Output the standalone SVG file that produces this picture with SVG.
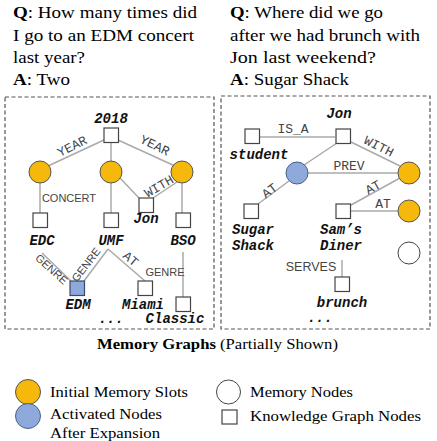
<svg xmlns="http://www.w3.org/2000/svg" width="437" height="441" viewBox="0 0 437 441">
<style>
.q{font-family:"Liberation Serif",serif;font-size:16.5px;fill:#000}
.lg{font-family:"Liberation Serif",serif;font-size:15.5px;fill:#000}
.nl{font-family:"Liberation Mono",monospace;font-size:14px;font-weight:bold;font-style:italic;fill:#111;text-anchor:middle}
.el{font-family:"Liberation Mono",monospace;font-size:13px;fill:#444;text-anchor:middle}
.es{font-family:"Liberation Sans",sans-serif;font-size:11px;fill:#444;text-anchor:middle}
.box{fill:none;stroke:#555;stroke-width:1.2;stroke-dasharray:4 2.5}
.ln{stroke:#aaa;stroke-width:1.5;fill:none}
.sq{fill:#fff;stroke:#444;stroke-width:1.2}
.ym{fill:#f6b80a;stroke:#555;stroke-width:1}
.bm{fill:#8ea9db;stroke:#4d6185;stroke-width:1}
.wm{fill:#fff;stroke:#444;stroke-width:1}
</style>
<g id="questions">
<text class="q" x="13" y="18" textLength="184" lengthAdjust="spacingAndGlyphs"><tspan font-weight="bold">Q</tspan>: How many times did</text>
<text class="q" x="13" y="41" textLength="181" lengthAdjust="spacingAndGlyphs">I go to an EDM concert</text>
<text class="q" x="13" y="63" textLength="72" lengthAdjust="spacingAndGlyphs">last year?</text>
<text class="q" x="13" y="85" textLength="57" lengthAdjust="spacingAndGlyphs"><tspan font-weight="bold">A</tspan>: Two</text>
<text class="q" x="230" y="18" textLength="153" lengthAdjust="spacingAndGlyphs"><tspan font-weight="bold">Q</tspan>: Where did we go</text>
<text class="q" x="230" y="41" textLength="190" lengthAdjust="spacingAndGlyphs">after we had brunch with</text>
<text class="q" x="230" y="63" textLength="146" lengthAdjust="spacingAndGlyphs">Jon last weekend?</text>
<text class="q" x="230" y="85" textLength="119" lengthAdjust="spacingAndGlyphs"><tspan font-weight="bold">A</tspan>: Sugar Shack</text>
</g>
<rect class="box" x="5" y="97" width="209" height="232"/>
<rect class="box" x="221" y="96" width="209" height="233"/>
<g id="connectors">
<line class="ln" x1="104" y1="140" x2="48" y2="166"/>
<line class="ln" x1="118" y1="140" x2="175" y2="166"/>
<line class="ln" x1="111" y1="143" x2="111" y2="161"/>
<line class="ln" x1="40" y1="183" x2="40" y2="213"/>
<line class="ln" x1="111" y1="183" x2="111" y2="213"/>
<line class="ln" x1="182" y1="183" x2="182" y2="213"/>
<line class="ln" x1="120" y1="178" x2="139" y2="198"/>
<line class="ln" x1="153" y1="198" x2="177" y2="182"/>
<line class="ln" x1="42" y1="253" x2="71" y2="281"/>
<line class="ln" x1="84" y1="281" x2="108" y2="249"/>
<line class="ln" x1="108" y1="249" x2="145" y2="281"/>
<line class="ln" x1="183" y1="252" x2="183" y2="297"/>
<line class="ln" x1="259" y1="137" x2="335" y2="137"/>
<line class="ln" x1="304" y1="165" x2="337" y2="143"/>
<line class="ln" x1="351" y1="142" x2="400" y2="166"/>
<line class="ln" x1="308" y1="173" x2="398" y2="173"/>
<line class="ln" x1="258" y1="204" x2="289" y2="181"/>
<line class="ln" x1="351" y1="205" x2="400" y2="178"/>
<line class="ln" x1="351" y1="211" x2="398" y2="211"/>
<line class="ln" x1="342" y1="260" x2="342" y2="277"/>
<text class="el" transform="translate(74 150) rotate(-27)">YEAR</text>
<text class="el" transform="translate(153 149) rotate(26)">YEAR</text>
<text class="es" x="69" y="202">CONCERT</text>
<text class="el" transform="translate(161 190) rotate(-30)">WITH</text>
<text class="es" transform="translate(49 272) rotate(42)">GENRE</text>
<text class="es" transform="translate(89 267) rotate(-52)">GENRE</text>
<text class="el" transform="translate(128 262) rotate(40)">AT</text>
<text class="es" x="165" y="276">GENRE</text>
<text class="el" x="293" y="133">IS_A</text>
<text class="el" transform="translate(377 150) rotate(27)">WITH</text>
<text class="el" x="349" y="170">PREV</text>
<text class="el" transform="translate(272 194) rotate(-37)">AT</text>
<text class="el" transform="translate(375 191) rotate(-29)">AT</text>
<text class="el" x="383" y="208">AT</text>
<text class="es" x="311" y="271" style="font-size:12.5px">SERVES</text>
</g>
<g id="n2018"><rect class="sq" x="104" y="128" width="14.5" height="14.5"/><text class="nl" x="111" y="123">2018</text></g>
<g id="m1"><circle class="ym" cx="40" cy="172" r="11"/></g>
<g id="m2"><circle class="ym" cx="111" cy="172" r="11"/></g>
<g id="m3"><circle class="ym" cx="182" cy="172" r="11"/></g>
<g id="nEDC"><rect class="sq" x="33" y="213" width="14.5" height="14.5"/><text class="nl" x="42" y="245">EDC</text></g>
<g id="nUMF"><rect class="sq" x="104" y="213" width="14.5" height="14.5"/><text class="nl" x="111" y="245">UMF</text></g>
<g id="nJon1"><rect class="sq" x="139" y="198" width="14.5" height="14.5"/><text class="nl" x="146" y="223">Jon</text></g>
<g id="nBSO"><rect class="sq" x="176" y="213" width="14.5" height="14.5"/><text class="nl" x="183" y="245">BSO</text></g>
<g id="nEDM"><rect class="sq" x="70" y="281" width="14.5" height="14.5" style="fill:#8ea9db;stroke:#3c4a66"/><text class="nl" x="78" y="309">EDM</text></g>
<g id="nMiami"><rect class="sq" x="138" y="281" width="14.5" height="14.5"/><text class="nl" x="143" y="309">Miami</text></g>
<g id="nClassic"><rect class="sq" x="176" y="297" width="14.5" height="14.5"/><text class="nl" x="175" y="323">Classic</text></g>
<text class="nl" x="111" y="323">...</text>
<g id="nStudent"><rect class="sq" x="245" y="129" width="14.5" height="14.5"/><text class="nl" x="259" y="159">student</text></g>
<g id="nJon2"><rect class="sq" x="336" y="129" width="14.5" height="14.5"/><text class="nl" x="339" y="118">Jon</text></g>
<g id="a1"><circle class="bm" cx="297" cy="173" r="11"/></g>
<g id="m4"><circle class="ym" cx="409" cy="173" r="11"/></g>
<g id="m5"><circle class="ym" cx="409" cy="211" r="11"/></g>
<g id="m6"><circle class="wm" cx="409" cy="253" r="11"/></g>
<g id="nSugar"><rect class="sq" x="244" y="204" width="14.5" height="14.5"/><text class="nl" x="253" y="234">Sugar</text><text class="nl" x="253" y="250">Shack</text></g>
<g id="nSams"><rect class="sq" x="336" y="204" width="14.5" height="14.5"/><text class="nl" x="341" y="234">Sam’s</text><text class="nl" x="341" y="250">Diner</text></g>
<g id="nBrunch"><rect class="sq" x="335" y="277" width="14.5" height="14.5"/><text class="nl" x="342" y="307">brunch</text></g>
<text class="nl" x="320" y="322">...</text>
<g id="legend">
<text class="lg" x="97" y="349" textLength="241" lengthAdjust="spacingAndGlyphs"><tspan font-weight="bold">Memory Graphs</tspan> (Partially Shown)</text>
<circle class="ym" cx="28" cy="392" r="12.5"/>
<text class="lg" x="50" y="397" textLength="138" lengthAdjust="spacingAndGlyphs">Initial Memory Slots</text>
<circle class="wm" cx="228.5" cy="392" r="12"/>
<text class="lg" x="250" y="397" textLength="103" lengthAdjust="spacingAndGlyphs">Memory Nodes</text>
<circle class="bm" cx="28" cy="416" r="12.5"/>
<text class="lg" x="50" y="419" textLength="112" lengthAdjust="spacingAndGlyphs">Activated Nodes</text>
<text class="lg" x="50" y="438" textLength="110" lengthAdjust="spacingAndGlyphs">After Expansion</text>
<rect class="sq" x="222" y="410" width="15" height="14"/>
<text class="lg" x="250" y="421" textLength="171" lengthAdjust="spacingAndGlyphs">Knowledge Graph Nodes</text>
</g>
</svg>
